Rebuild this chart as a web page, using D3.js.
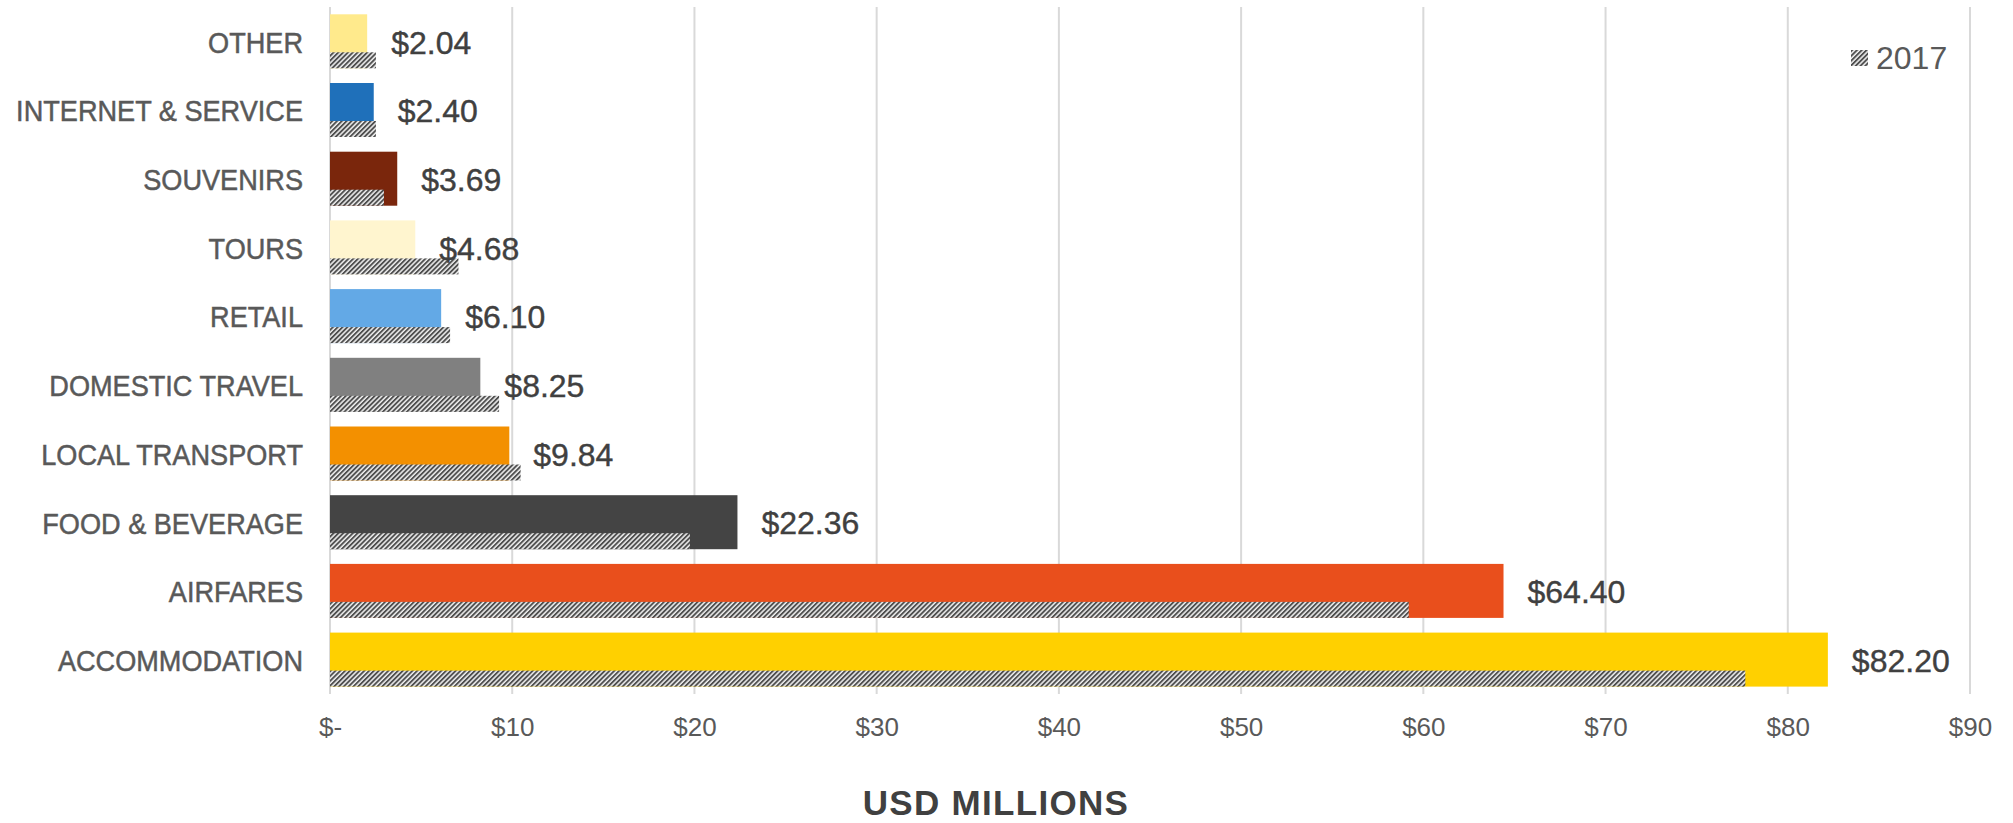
<!DOCTYPE html>
<html>
<head>
<meta charset="utf-8">
<script src="https://cdn.jsdelivr.net/npm/d3@7"></script>
<style>
  html, body { margin: 0; padding: 0; background: #ffffff; }
  svg { display: block; }
</style>
</head>
<body>
<svg id="chart" width="2013" height="823"></svg>
<script>
// Spending categories, top to bottom
const categories = [
  "OTHER", "INTERNET & SERVICE", "SOUVENIRS", "TOURS", "RETAIL",
  "DOMESTIC TRAVEL", "LOCAL TRANSPORT", "FOOD & BEVERAGE", "AIRFARES", "ACCOMMODATION"
];
// Current-year spend, USD millions
const values2018 = [2.04, 2.40, 3.69, 4.68, 6.10, 8.25, 9.84, 22.36, 64.40, 82.20];
// Prior-year spend (2017), USD millions
const values2017 = [2.52, 2.52, 2.96, 7.05, 6.59, 9.28, 10.46, 19.75, 59.2, 77.67];
const barColors = [
  "#FFEA8C", "#1F70BA", "#7A260C", "#FFF5CF", "#63A9E6",
  "#808080", "#F39000", "#444444", "#E94F1C", "#FFD000"
];
const tickValues = [0, 10, 20, 30, 40, 50, 60, 70, 80, 90];
const tickLabels = ["$-", "$10", "$20", "$30", "$40", "$50", "$60", "$70", "$80", "$90"];
const legendLabel = "2017";
const axisTitle = "USD MILLIONS";

const svg = d3.select("#chart");
const plot = { left: 330, right: 1970, top: 7, bottom: 694 };

const x = d3.scaleLinear().domain([0, 90]).range([plot.left, plot.right]);
const y = d3.scaleBand().domain(categories).range([plot.top, plot.bottom]);

const band = y.bandwidth();
const barTop = 7.3;
const barH = 54;
const hatchH = 16;

// Diagonal hatch for the prior-year bars
const defs = svg.append("defs");
const pat = defs.append("pattern")
  .attr("id", "hatch")
  .attr("patternUnits", "userSpaceOnUse")
  .attr("width", 3.4).attr("height", 3.4)
  .attr("patternTransform", "rotate(45)");
pat.append("rect").attr("width", 3.4).attr("height", 3.4).attr("fill", "#f0f0f0");
pat.append("rect").attr("width", 1.9).attr("height", 3.4).attr("fill", "#4f4f4f");

// Vertical gridlines
svg.append("g")
  .selectAll("line")
  .data(tickValues)
  .join("line")
  .attr("x1", d => x(d)).attr("x2", d => x(d))
  .attr("y1", plot.top).attr("y2", plot.bottom)
  .attr("stroke", "#d9d9d9")
  .attr("stroke-width", 2);

// Tick labels on the value axis
const xAxis = d3.axisBottom(x)
  .tickValues(tickValues)
  .tickFormat((d, i) => tickLabels[i])
  .tickSize(0)
  .tickPadding(0);
const ax = svg.append("g")
  .attr("transform", `translate(0, 727)`)
  .call(xAxis);
ax.select(".domain").remove();
ax.selectAll("text")
  .attr("dy", "0.35em")
  .attr("y", 0)
  .attr("font-family", "'Liberation Sans', Arial, sans-serif")
  .attr("font-size", 26)
  .attr("fill", "#595959");

// Current-year bars
const rows = categories.map((c, i) => ({
  cat: c, v: values2018[i], prev: values2017[i], color: barColors[i]
}));

svg.append("g")
  .selectAll("rect")
  .data(rows)
  .join("rect")
  .attr("x", x(0))
  .attr("y", d => y(d.cat) + barTop)
  .attr("width", d => x(d.v) - x(0))
  .attr("height", barH)
  .attr("fill", d => d.color);

// Prior-year hatched bars along the bottom of each bar
svg.append("g")
  .selectAll("rect")
  .data(rows)
  .join("rect")
  .attr("x", x(0))
  .attr("y", d => y(d.cat) + barTop + barH - hatchH)
  .attr("width", d => x(d.prev) - x(0))
  .attr("height", hatchH)
  .attr("fill", "url(#hatch)");

// Value labels
svg.append("g")
  .selectAll("text")
  .data(rows)
  .join("text")
  .attr("x", d => x(d.v) + 24)
  .attr("y", d => y(d.cat) + barTop + barH / 2 + 1)
  .attr("dy", "0.35em")
  .attr("font-family", "'Liberation Sans', Arial, sans-serif")
  .attr("font-size", 32)
  .attr("fill", "#404040")
  .attr("stroke", "#404040")
  .attr("stroke-width", 0.4)
  .text(d => "$" + d.v.toFixed(2));

// Category labels (condensed)
svg.append("g")
  .selectAll("text")
  .data(categories)
  .join("text")
  .attr("transform", d => `translate(303, ${y(d) + band / 2 + 1}) scale(0.92, 1)`)
  .attr("dy", "0.35em")
  .attr("text-anchor", "end")
  .attr("font-family", "'Liberation Sans', Arial, sans-serif")
  .attr("font-size", 29.5)
  .attr("fill", "#595959")
  .attr("stroke", "#595959")
  .attr("stroke-width", 0.5)
  .text(d => d);

// Legend
const lg = svg.append("g").attr("transform", "translate(1851, 50)");
lg.append("rect").attr("width", 17).attr("height", 16).attr("fill", "url(#hatch)");
lg.append("text")
  .attr("x", 25).attr("y", 8)
  .attr("dy", "0.35em")
  .attr("font-family", "'Liberation Sans', Arial, sans-serif")
  .attr("font-size", 32)
  .attr("fill", "#595959")
  .text(legendLabel);

// Axis title
svg.append("text")
  .attr("x", 996).attr("y", 815)
  .attr("font-family", "'Liberation Sans', Arial, sans-serif")
  .attr("text-anchor", "middle")
  .attr("font-weight", "bold")
  .attr("font-size", 35)
  .attr("letter-spacing", 1.3)
  .attr("fill", "#404040")
  .text(axisTitle);
</script>
</body>
</html>
